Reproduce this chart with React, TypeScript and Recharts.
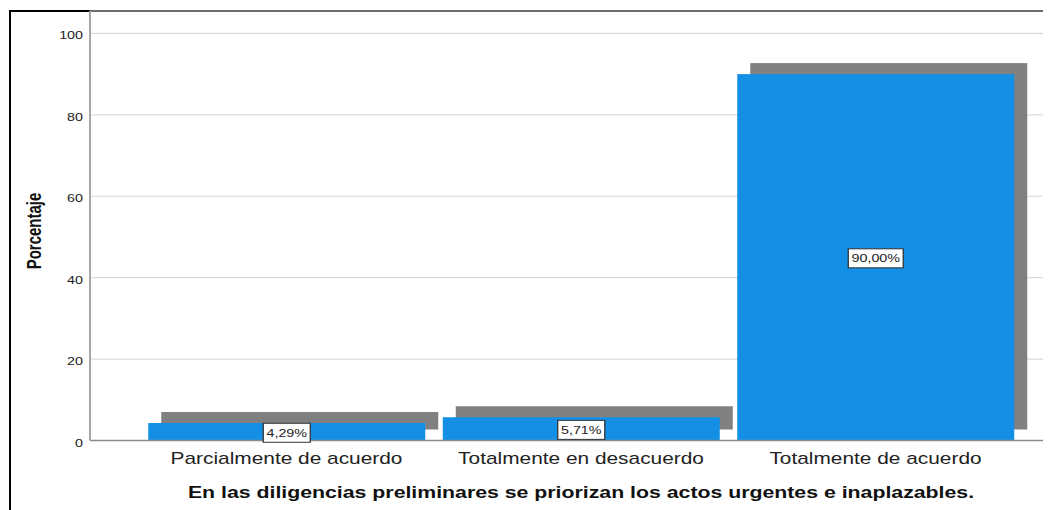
import React from 'react';
import { BarChart, Bar, XAxis, YAxis, CartesianGrid, LabelList } from 'recharts';

const categories = ['Parcialmente de acuerdo', 'Totalmente en desacuerdo', 'Totalmente de acuerdo'];
const percentages = [4.29, 5.71, 90.0];
const valueLabels = ['4,29%', '5,71%', '90,00%'];
const yTicks = [0, 20, 40, 60, 80, 100];
const xTitle = 'En las diligencias preliminares se priorizan los actos urgentes e inaplazables.';
const yTitle = 'Porcentaje';

const data = categories.map((name, i) => ({ name, value: percentages[i], label: valueLabels[i] }));

const W = 1043;
const H = 502;
const Y_AXIS_W = 82;
const PAD_L = 49.25;
const PAD_R = 28.25;
const STRETCH = 1.3;
const FONT = '"Liberation Sans", Arial, sans-serif';
const BLUE = '#1390e6';
const SHADOW = '#808080';

const charW: Record<string, number> = { ',': 0.278, '%': 0.889 };
const textWidth = (s: string, size: number) =>
  s.split('').reduce((a, c) => a + (charW[c] ?? 0.556), 0) * size;

const ShadowBar = (props: any) => {
  const { x, y, width, height } = props;
  if (width == null || height == null) return null;
  return (
    <g>
      <rect x={x + 13} y={y - 11} width={width} height={height} fill={SHADOW} />
      <rect x={x} y={y} width={width} height={height} fill={BLUE} />
    </g>
  );
};

const ValueLabel = (props: any) => {
  const { x, y, width, height, value } = props;
  const cx = x + width / 2;
  const cy = y + height / 2 + 1;
  const w = textWidth(String(value), 11) + 5;
  return (
    <g transform={`translate(${cx},${cy}) scale(${STRETCH},1)`}>
      <rect x={-w / 2} y={-9.5} width={w} height={19} fill="#fff" stroke="#333" strokeWidth={1} />
      <text x={0} y={4} textAnchor="middle" fontSize={11} fontFamily={FONT} fill="#222">
        {value}
      </text>
    </g>
  );
};

const XTick = (props: any) => {
  const { x, y, payload } = props;
  return (
    <text
      transform={`translate(${x},${y + 23.5}) scale(1.32,1)`}
      textAnchor="middle"
      fontSize={15.8}
      fontFamily={FONT}
      fill="#222"
    >
      {payload.value}
    </text>
  );
};

const YTick = (props: any) => {
  const { x, y, payload } = props;
  return (
    <text
      transform={`translate(${x - 7},${y + 6}) scale(${STRETCH},1)`}
      textAnchor="end"
      fontSize={11}
      fontFamily={FONT}
      fill="#222"
    >
      {payload.value}
    </text>
  );
};

const titleX = Y_AXIS_W + PAD_L + (W - Y_AXIS_W - PAD_L - PAD_R) / 2;

const XTitle = () => (
  <text
    transform={`translate(${titleX},490) scale(1.29,1)`}
    textAnchor="middle"
    fontSize={16.5}
    fontWeight="bold"
    fontFamily={FONT}
    fill="#111"
  >
    {xTitle}
  </text>
);

const YTitle = () => (
  <text
    transform={`translate(33,223) scale(${STRETCH},1) rotate(-90)`}
    textAnchor="middle"
    fontSize={15}
    fontWeight="bold"
    fontFamily={FONT}
    fill="#111"
  >
    {yTitle}
  </text>
);

export default function App() {
  return (
    <div style={{ position: 'relative', width: W, height: H, overflow: 'hidden' }}>
      <div
        style={{
          position: 'absolute',
          left: 0.5,
          top: 1.5,
          width: W + 50,
          height: H + 50,
          borderTop: '2px solid #000',
          borderLeft: '2px solid #000',
          boxSizing: 'border-box',
        }}
      />
      <div style={{ position: 'absolute', left: 0, top: 0 }}>
        <BarChart
          width={W}
          height={H}
          data={data}
          margin={{ top: 3, right: 0, bottom: 9.5, left: 0 }}
        >
          <CartesianGrid vertical={false} stroke="#d9d9d9" strokeWidth={1.2} />
          <XAxis
            dataKey="name"
            height={60}
            padding={{ left: PAD_L, right: PAD_R }}
            axisLine={{ stroke: '#8a8a8a', strokeWidth: 1.5 }}
            tickLine={false}
            tickSize={0}
            tickMargin={0}
            tick={<XTick />}
            interval={0}
            label={XTitle}
          />
          <YAxis
            width={Y_AXIS_W}
            domain={[0, 105.5]}
            ticks={yTicks}
            allowDataOverflow
            axisLine={{ stroke: '#a6a6a6', strokeWidth: 2 }}
            tickLine={false}
            tickSize={0}
            tickMargin={0}
            tick={<YTick />}
            label={YTitle}
          />
          <Bar dataKey="value" barSize={277} shape={<ShadowBar />} isAnimationActive={false}>
            <LabelList dataKey="label" content={<ValueLabel />} />
          </Bar>
        </BarChart>
      </div>
    </div>
  );
}
